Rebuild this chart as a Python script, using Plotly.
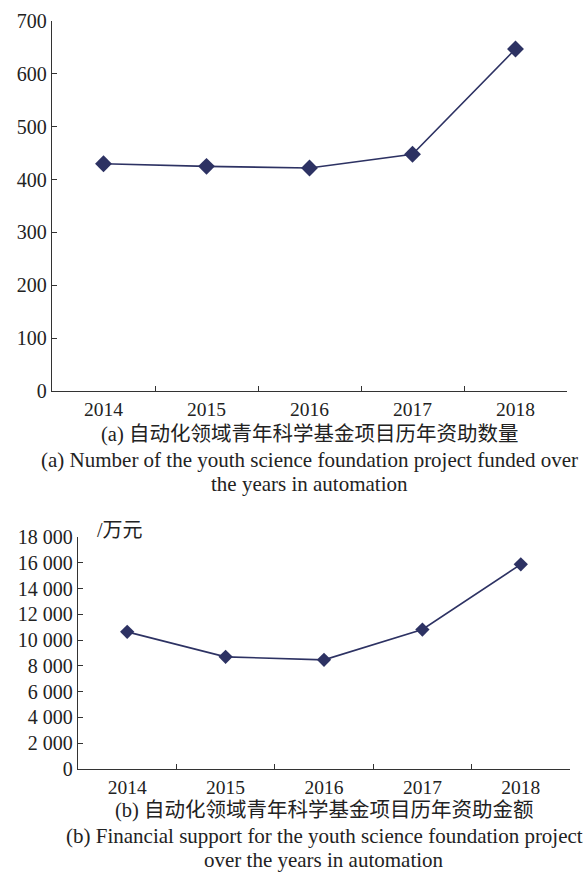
import plotly.graph_objects as go

# Youth science foundation projects in automation, 2014-2018
years = ["2014", "2015", "2016", "2017", "2018"]
funded_count = [430, 425, 422, 448, 647]
funding_amount = [10640, 8700, 8470, 10820, 15880]  # 万元

count_ticks = [0, 100, 200, 300, 400, 500, 600, 700]
amount_ticks = [0, 2000, 4000, 6000, 8000, 10000, 12000, 14000, 16000, 18000]

caption_a_cn = "(a) 自动化领域青年科学基金项目历年资助数量"
caption_a_en = ["(a) Number of the youth science foundation project funded over",
                "the years in automation"]
caption_b_cn = "(b) 自动化领域青年科学基金项目历年资助金额"
caption_b_en = ["(b) Financial support for the youth science foundation project",
                "over the years in automation"]
unit_label = "/万元"

W, H = 584, 872
SERIF = "Liberation Serif, Times New Roman, serif"
CJK = "Liberation Serif, Noto Sans CJK SC, serif"
INK = "#222222"
AXIS = "#333333"
NAVY = "#2d3263"


def px_x(p):
    return p / W


def px_y(p):
    return 1 - p / H


fig = go.Figure()

fig.add_trace(go.Scatter(
    x=years, y=funded_count, mode="lines+markers", xaxis="x", yaxis="y",
    line=dict(color=NAVY, width=1.6),
    marker=dict(symbol="diamond", size=13, color=NAVY),
    showlegend=False, cliponaxis=False,
))
fig.add_trace(go.Scatter(
    x=years, y=funding_amount, mode="lines+markers", xaxis="x2", yaxis="y2",
    line=dict(color=NAVY, width=1.6),
    marker=dict(symbol="diamond", size=11, color=NAVY),
    showlegend=False, cliponaxis=False,
))

xaxis_common = dict(
    type="category", tickson="boundaries", ticks="inside", ticklen=5,
    tickwidth=1.2, tickcolor=AXIS, showline=True, linecolor=AXIS, linewidth=1.4,
    showgrid=False, zeroline=False, range=[-0.5, 4.5], automargin=False,
    tickfont=dict(family=SERIF, size=19.5, color=INK), ticklabelstandoff=0,
)
yaxis_common = dict(
    ticks="inside", ticklen=5, tickwidth=1.2, tickcolor=AXIS,
    showline=True, linecolor=AXIS, linewidth=1.4, showgrid=False,
    zeroline=False, automargin=False,
    tickfont=dict(family=SERIF, size=20, color=INK),
)

a_left, a_right, a_top, a_bottom = 52, 567, 21, 391
b_left, b_right, b_top, b_bottom = 78, 570, 537, 769

fig.update_layout(
    width=W, height=H,
    margin=dict(l=0, r=0, t=0, b=0),
    paper_bgcolor="white", plot_bgcolor="white",
    separators=". ",
    xaxis=dict(domain=[px_x(a_left), px_x(a_right)], anchor="y", **xaxis_common),
    yaxis=dict(domain=[px_y(a_bottom), px_y(a_top)], anchor="x",
               range=[0, 700], tickvals=count_ticks, **yaxis_common),
    xaxis2=dict(domain=[px_x(b_left), px_x(b_right)], anchor="y2", **xaxis_common),
    yaxis2=dict(domain=[px_y(b_bottom), px_y(b_top)], anchor="x2",
                range=[0, 18000], tickvals=amount_ticks, tickformat=",d",
                **yaxis_common),
)

# Captions centred under each plot area
captions = [
    ("x domain", caption_a_cn, a_bottom + 43, CJK, 20.5),
    ("x domain", caption_a_en[0], a_bottom + 69, SERIF, 21),
    ("x domain", caption_a_en[1], a_bottom + 93, SERIF, 21),
    ("x2 domain", caption_b_cn, b_bottom + 41, CJK, 20.5),
    ("x2 domain", caption_b_en[0], b_bottom + 67, SERIF, 21),
    ("x2 domain", caption_b_en[1], b_bottom + 91, SERIF, 21),
]
for xref, text, ypix, fam, size in captions:
    fig.add_annotation(
        xref=xref, yref="paper", x=0.5, y=px_y(ypix), text=text,
        showarrow=False, xanchor="center", yanchor="middle",
        font=dict(family=fam, size=size, color=INK),
    )

fig.add_annotation(
    xref="x2 domain", yref="paper", x=0.035, y=px_y(530), text=unit_label,
    showarrow=False, xanchor="left", yanchor="middle",
    font=dict(family=CJK, size=20, color=INK),
)

fig.write_html("out.html")
